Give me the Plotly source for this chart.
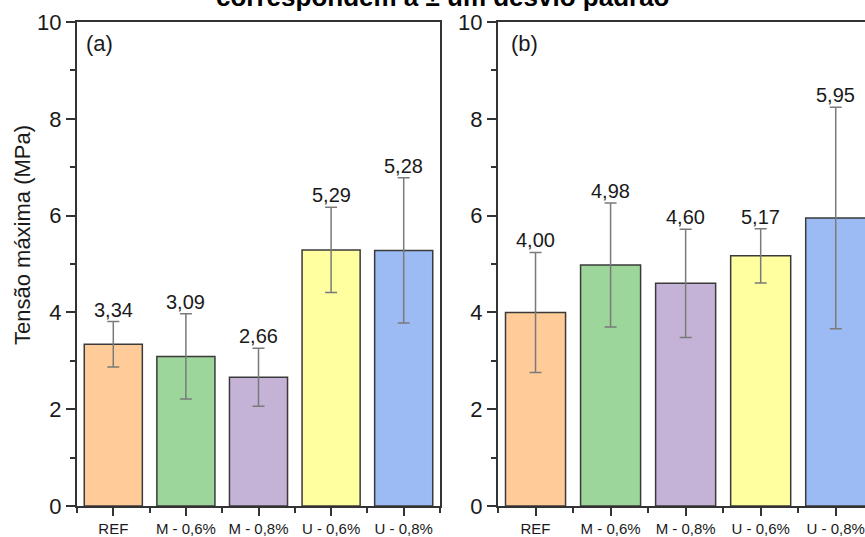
import plotly.graph_objects as go

# Maximum tensile stress per mix, two test series
categories = ["REF", "M - 0,6%", "M - 0,8%", "U - 0,6%", "U - 0,8%"]
means_a = [3.34, 3.09, 2.66, 5.29, 5.28]
sd_a = [0.47, 0.88, 0.60, 0.88, 1.50]
means_b = [4.00, 4.98, 4.60, 5.17, 5.95]
sd_b = [1.24, 1.28, 1.12, 0.56, 2.29]
bar_colors = ["#FFCC99", "#9DD69B", "#C5B3D7", "#FFFF9F", "#9CBBF5"]

title_text = "correspondem a ± um desvio padrão"
y_title = "Tensão máxima (MPa)"

W, H = 865, 537
TOP, BOTTOM = 22, 506
FONT = "Liberation Sans, Arial, sans-serif"
AXIS_COLOR = "#333333"
TEXT_COLOR = "#1a1a1a"

xpos = list(range(len(categories)))


def px_x(p):
    return p / W


def px_y(p):
    return (BOTTOM - p) / (BOTTOM - TOP)


fig = go.Figure()

for xa, ya, means, sds in (("x", "y", means_a, sd_a), ("x2", "y2", means_b, sd_b)):
    fig.add_trace(go.Bar(
        x=xpos, y=means, xaxis=xa, yaxis=ya,
        width=0.8,
        marker=dict(color=bar_colors, line=dict(color="#3a3a3a", width=1.5)),
        error_y=dict(type="data", array=sds, visible=True,
                     color="#7a7a7a", thickness=1.5, width=6),
        showlegend=False, hoverinfo="skip",
    ))
    for xi, m, s in zip(xpos, means, sds):
        fig.add_annotation(
            x=xi, y=m + s, xref=xa, yref=ya,
            text=f"{m:.2f}".replace(".", ","),
            showarrow=False, yanchor="bottom", yshift=-1,
            font=dict(family=FONT, size=20, color=TEXT_COLOR),
        )

xaxis_common = dict(
    tickmode="array", tickvals=xpos, ticktext=categories,
    ticks="outside", ticklen=8, tickwidth=1.5, tickcolor=AXIS_COLOR,
    showline=True, linecolor=AXIS_COLOR, linewidth=2, mirror=True,
    showgrid=False, zeroline=False,
    tickfont=dict(family=FONT, size=15, color=TEXT_COLOR),
    minor=dict(tickmode="array", tickvals=[i + 0.5 for i in range(-1, 5)],
               ticks="outside", ticklen=5, tickwidth=1.5, tickcolor=AXIS_COLOR,
               showgrid=False),
    fixedrange=True,
)
yaxis_common = dict(
    range=[0, 10], tickmode="array", tickvals=[0, 2, 4, 6, 8, 10],
    ticks="outside", ticklen=9, tickwidth=1.5, tickcolor=AXIS_COLOR,
    showline=True, linecolor=AXIS_COLOR, linewidth=2,
    showgrid=False, zeroline=False,
    tickfont=dict(family=FONT, size=22, color=TEXT_COLOR),
    minor=dict(tickmode="array", tickvals=[1, 3, 5, 7, 9],
               ticks="outside", ticklen=5, tickwidth=1.5, tickcolor=AXIS_COLOR,
               showgrid=False),
    domain=[0, 1], fixedrange=True,
)

fig.update_layout(
    width=W, height=H,
    margin=dict(l=0, r=0, t=TOP, b=H - BOTTOM, pad=0),
    paper_bgcolor="white", plot_bgcolor="white",
    bargap=0.2,
    xaxis=dict(xaxis_common, domain=[px_x(77), px_x(440)], range=[-0.5, 4.5], anchor="y"),
    yaxis=dict(yaxis_common, anchor="x", mirror=True),
    xaxis2=dict(xaxis_common, domain=[px_x(498), 1.0], range=[-0.5, 4.39], anchor="y2"),
    yaxis2=dict(yaxis_common, anchor="x2", mirror=False),
)

# Panel letters
for label, xl in (("(a)", 84), ("(b)", 509)):
    fig.add_annotation(
        x=px_x(xl), y=px_y(43), xref="paper", yref="paper",
        text=label, showarrow=False, xanchor="left", yanchor="middle",
        font=dict(family=FONT, size=22, color=TEXT_COLOR),
    )

# Shared y-axis title
fig.add_annotation(
    x=px_x(22), y=px_y(235), xref="paper", yref="paper",
    text=y_title, textangle=-90, showarrow=False,
    xanchor="center", yanchor="middle",
    font=dict(family=FONT, size=22, color=TEXT_COLOR),
)

# Heading line above the panels
fig.add_annotation(
    x=px_x(443), y=px_y(14), xref="paper", yref="paper",
    text=f"<b>{title_text}</b>", showarrow=False,
    xanchor="center", yanchor="bottom",
    font=dict(family=FONT, size=26, color="#000000"),
)

fig.write_html("out.html")
